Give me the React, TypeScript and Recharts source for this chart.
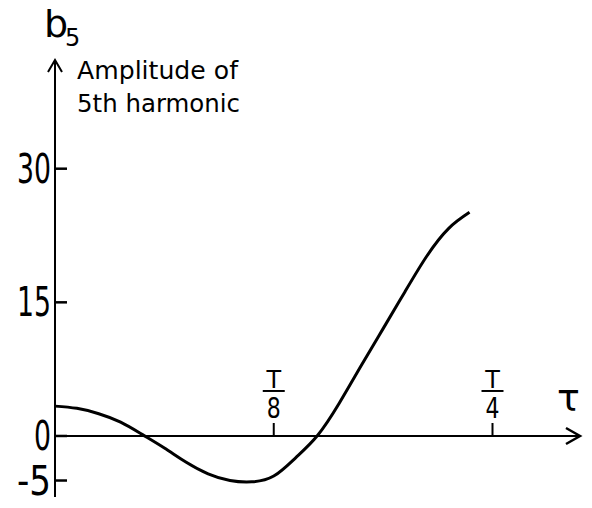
import { LineChart, Line, XAxis, YAxis, ReferenceLine, ReferenceDot } from "recharts";

// tau in units of T/8 (1 = T/8, 2 = T/4)
const tau = [0, 0.1, 0.2, 0.3, 0.4, 0.5, 0.6, 0.7, 0.8, 0.9, 1.0, 1.1, 1.2, 1.3, 1.4, 1.5, 1.6, 1.7, 1.8, 1.895];
const b5 = [3.35, 3.1, 2.5, 1.55, 0.15, -1.35, -2.95, -4.25, -5.0, -5.15, -4.5, -2.45, 0.05, 3.7, 7.9, 12.05, 16.2, 20.2, 23.3, 25.1];

const yTicks = [-5, 0, 15, 30];
const xTickValues = [1, 2];
const xTickDenoms = ["8", "4"];

const data = tau.map((t, i) => ({ tau: t, b5: b5[i] }));

const X_MAX = 2.4;
const Y_MIN = -6.85;
const Y_MAX = 42.2;

const hand = "'DejaVu Sans', sans-serif";

const yLabel = (v: number) => (v < 0 ? `-${-v}` : `${v}`);

function YTick(props: any) {
  const { x, y, payload } = props;
  const s = yLabel(payload.value as number);
  return (
    <text
      x={x}
      y={y + 14}
      textAnchor="end"
      fontFamily={hand}
      fontSize={40}
      textLength={s.length * 17}
      lengthAdjust="spacingAndGlyphs"
      fill="#000"
    >
      {s}
    </text>
  );
}

// tick mark pointing into the plot from the b5 axis
function InnerTick(props: any) {
  const { cx, cy } = props;
  return <path d={`M${cx},${cy} L${cx + 12},${cy}`} fill="none" stroke="#000" strokeWidth={2.5} />;
}

function UpArrow(props: any) {
  const { cx, cy } = props;
  return (
    <path d={`M${cx - 7},${cy + 12} L${cx},${cy} L${cx + 7},${cy + 12}`} fill="none" stroke="#000" strokeWidth={2} />
  );
}

function RightArrow(props: any) {
  const { cx, cy } = props;
  return (
    <path d={`M${cx - 14},${cy - 8} L${cx},${cy} L${cx - 14},${cy + 8}`} fill="none" stroke="#000" strokeWidth={2.5} />
  );
}

function fracTick(denom: string) {
  return (props: any) => {
    const { cx, cy } = props;
    return (
      <g>
        <path d={`M${cx},${cy} L${cx},${cy - 13}`} stroke="#000" strokeWidth={2} />
        <text x={cx} y={cy - 48} textAnchor="middle" fontFamily={hand} fontSize={24} fill="#000">T</text>
        <path d={`M${cx - 11},${cy - 45} L${cx + 11},${cy - 45}`} stroke="#000" strokeWidth={2} />
        <text
          x={cx}
          y={cy - 18}
          textAnchor="middle"
          fontFamily={hand}
          fontSize={29}
          textLength={14}
          lengthAdjust="spacingAndGlyphs"
          fill="#000"
        >
          {denom}
        </text>
      </g>
    );
  };
}

export default function App() {
  return (
    <div style={{ position: "absolute", left: 0, top: 0, background: "#fff" }}>
      <LineChart width={592} height={508} data={data} margin={{ top: 60, right: 12, bottom: 11, left: 0 }}>
        <XAxis type="number" dataKey="tau" domain={[0, X_MAX]} hide />
        <YAxis
          type="number"
          domain={[Y_MIN, Y_MAX]}
          ticks={yTicks}
          width={55}
          allowDataOverflow
          axisLine={{ stroke: "#000", strokeWidth: 2 }}
          tickLine={false}
          tickSize={0}
          tickMargin={4}
          tick={<YTick />}
          interval={0}
        />
        <ReferenceLine y={0} stroke="#000" strokeWidth={2} />
        {yTicks.map((v) => (
          <ReferenceDot key={`yt${v}`} x={0} y={v} r={0} shape={<InnerTick />} />
        ))}
        <ReferenceDot x={0} y={Y_MAX} r={0} shape={<UpArrow />} />
        <ReferenceDot x={X_MAX} y={0} r={0} shape={<RightArrow />} />
        {xTickValues.map((v, i) => (
          <ReferenceDot key={`xt${v}`} x={v} y={0} r={0} shape={fracTick(xTickDenoms[i])} />
        ))}
        <Line
          type="natural"
          dataKey="b5"
          stroke="#000"
          strokeWidth={3}
          dot={false}
          isAnimationActive={false}
        />
        <text x={44} y={37} fontFamily={hand} fontSize={38} fill="#000">b</text>
        <text x={65} y={46} fontFamily={hand} fontSize={24} fill="#000">5</text>
        <text x={77} y={79} fontFamily={hand} fontSize={25} textLength={161} lengthAdjust="spacingAndGlyphs" fill="#000">
          Amplitude of
        </text>
        <text x={77} y={112} fontFamily={hand} fontSize={25} textLength={163} lengthAdjust="spacingAndGlyphs" fill="#000">
          5th harmonic
        </text>
        <text x={557} y={411} fontFamily={hand} fontSize={38} fill="#000">τ</text>
      </LineChart>
    </div>
  );
}
